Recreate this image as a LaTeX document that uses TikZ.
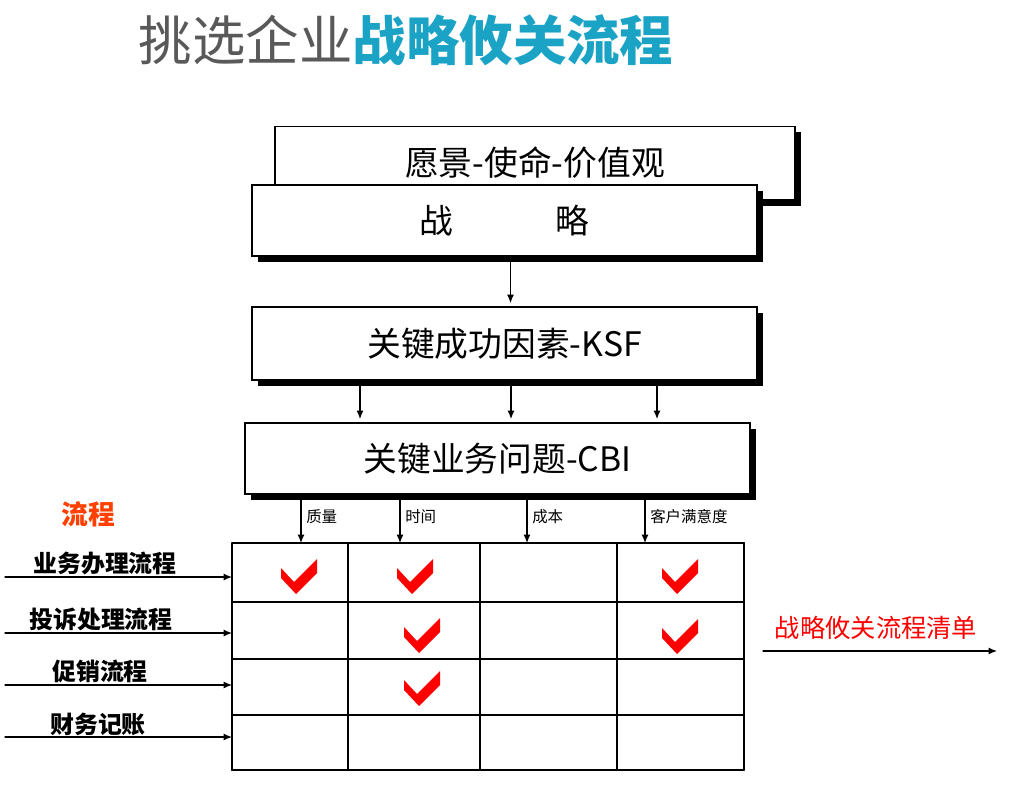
\documentclass[tikz,border=0pt]{standalone}
\usepackage{fontspec}
\setmainfont{Noto Sans CJK SC}
\usetikzlibrary{arrows.meta,positioning,shadows}
\definecolor{titlegray}{HTML}{595959}
\definecolor{titleblue}{HTML}{1BA3C6}
\definecolor{flowred}{HTML}{FF4000}

\begin{document}
\begin{tikzpicture}[x=0.025cm,y=-0.025cm,line cap=round,
  layerbox/.style={draw,line width=1.1pt,fill=white,minimum width=12.625cm,minimum height=1.825cm,
    font=\fontsize{24}{28}\selectfont,
    drop shadow={fill=black,opacity=1,shadow xshift=0.15cm,shadow yshift=-0.15cm}},
  link/.style={-{Latex[length=6pt,width=5pt]},line width=0.8pt},
  factor/.style={right,font=\fontsize{11}{13}\selectfont},
  flowname/.style={font=\fontsize{17}{20}\selectfont\bfseries},
  gridline/.style={line width=1.4pt},
  tick/.pic={\fill[red] (-18,-10) -- (-5,4) -- (18,-19) -- (18,-5) -- (-3,16) -- (-18,0) -- cycle;}]
  \useasboundingbox (0,0) rectangle (1012,802);

  % title
  \node[anchor=west,font=\fontsize{38}{44}\selectfont] (title) at (134,40)
    {\textcolor{titlegray}{挑选企业}\textcolor{titleblue}{\bfseries 战略攸关流程}};

  % layers
  \node[layerbox,minimum width=13cm] (vision) at (535,163) {愿景-使命-价值观};
  \node[layerbox,minimum height=1.775cm] (strategy) at (504.5,220.5) {战\hspace{2.55cm}略};
  \node[layerbox] (ksf) at (504.5,343.5) {关键成功因素-KSF};
  \node[layerbox,minimum height=1.775cm] (cbi) at (497.5,458.5) {关键业务问题-CBI};

  \draw[link] ([xshift=0.15cm]strategy.south) -- ([xshift=0.15cm,yshift=0.08cm]ksf.north);
  \foreach \x in {360,511,657}
    \draw[link] (ksf.south -| \x,0) -- ([yshift=0.08cm]cbi.north -| \x,0);

  % grid
  \coordinate (grid-nw) at (232,543);
  \coordinate (grid-se) at (744,770);
  \foreach \y in {543,602,659,715,770}
    \draw[gridline] (grid-nw |- 0,\y) -- (grid-se |- 0,\y);
  \foreach \x in {232,348,480,617,744}
    \draw[gridline] (grid-nw -| \x,0) -- (grid-se -| \x,0);

  \foreach \x/\lab in {301/质量,400/时间,527/成本,645/客户满意度}
    \draw[link] (cbi.south -| \x,0) -- (grid-nw -| \x,0) node[factor,pos=0.45] {\lab};

  \foreach \x/\y in {299/578,415/578,680/578,422/637,680/638,422/690}
    \pic at (\x,\y) {tick};

  % processes
  \node[font=\fontsize{19}{22}\selectfont\bfseries,text=flowred] (flows) at (88,514) {流程};
  \foreach \i/\y/\lab/\cx/\ly in {1/577/业务办理流程/105/563,2/633/投诉处理流程/101/619,
      3/685/促销流程/100/671,4/737/财务记账/98/724} {
    \coordinate (in-\i) at (5,\y);
    \draw[link] (in-\i) -- (in-\i -| grid-nw);
    \node[flowname] (flow-\i) at (\cx,\ly) {\lab};
  }

  % result
  \node[text=red,font=\fontsize{18}{21}\selectfont] (list) at (876,628) {战略攸关流程清单};
  \coordinate (out-a) at (763,651);
  \coordinate (out-b) at (997,651);
  \draw[link] (out-a) -- (out-b);
\end{tikzpicture}
\end{document}
